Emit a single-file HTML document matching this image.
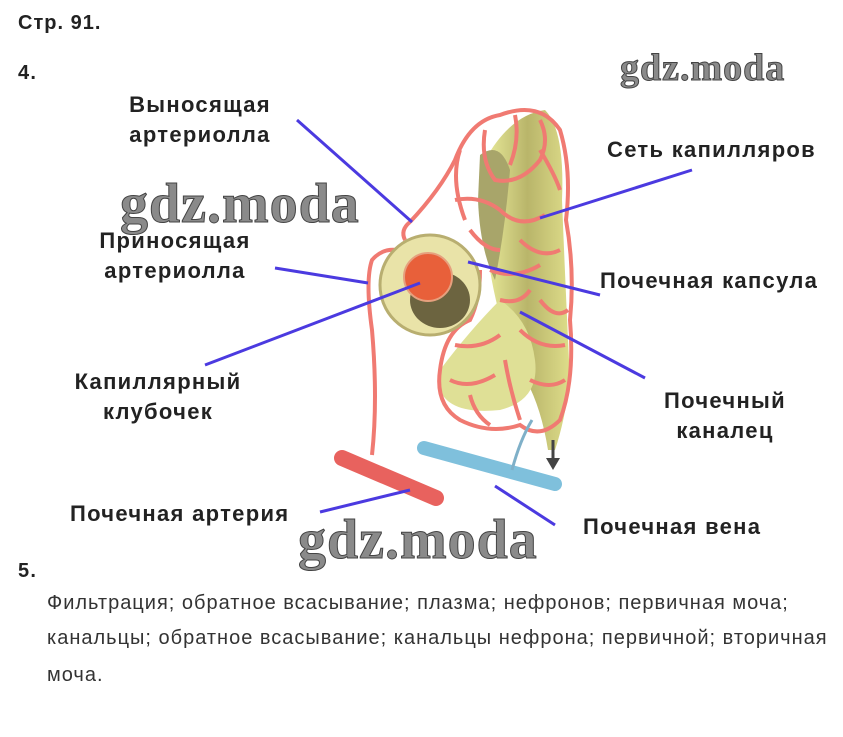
<!DOCTYPE html>
<html><head><meta charset="utf-8"><style>
body{margin:0;width:843px;height:737px;background:#fff;overflow:hidden;position:relative;font-family:"Liberation Sans",sans-serif}
.t{position:absolute;font-weight:bold;font-size:22px;letter-spacing:1.3px;color:#222;line-height:30px;white-space:nowrap}
.c{text-align:center}
.wm{position:absolute;font-family:"Liberation Serif",serif;font-weight:bold;color:#8a8a8a;-webkit-text-stroke:1px #444;letter-spacing:1px;white-space:nowrap}
.p{position:absolute;left:47px;font-size:20px;letter-spacing:1px;color:#333;white-space:nowrap}
</style></head><body>
<div class="t" style="left:18px;top:8px;font-size:20px;letter-spacing:1px">Стр. 91.</div>
<div class="t" style="left:18px;top:58px;font-size:20px">4.</div>
<div class="t" style="left:18px;top:556px;font-size:20px">5.</div>
<svg width="843" height="737" style="position:absolute;left:0;top:0">
<defs><linearGradient id="y" x1="0" x2="1"><stop offset="0" stop-color="#e8ea9a"/><stop offset=".5" stop-color="#b9b56a"/><stop offset="1" stop-color="#dedd8a"/></linearGradient></defs>
<path d="M485 160 Q510 115 545 110 Q565 130 562 200 Q566 300 570 380 Q565 420 555 450 L548 450 Q540 400 520 370 Q500 330 490 270 Z" fill="url(#y)"/>
<path d="M440 370 Q470 330 500 300 Q530 320 535 360 Q540 400 500 410 Q450 415 440 390 Z" fill="#dfe096"/>
<path d="M480 155 Q500 140 510 170 Q505 230 495 280 Q480 250 478 200 Z" fill="#a8a56a"/>
<g fill="none" stroke="#f07a72" stroke-width="4">
<path d="M410 222 Q440 190 455 160 Q470 120 500 115 Q540 100 560 130 Q572 170 566 220 Q575 270 570 320 Q575 380 560 420 Q540 440 520 425 Q490 435 460 420 Q435 405 440 370 Q445 330 470 320 Q480 300 480 270"/>
<path d="M460 150 Q450 180 465 220 M455 200 Q480 195 500 210 M485 130 Q480 160 495 180 Q520 185 540 160 Q550 140 540 120 M500 210 Q520 230 545 215 M520 240 Q540 260 560 250 M470 230 Q485 250 500 250 M490 270 Q515 280 540 265 M500 300 Q520 305 530 290 M540 300 Q555 320 568 310 M455 345 Q480 350 500 335 M520 330 Q540 350 565 345 M450 380 Q470 390 495 375 M505 360 Q510 390 520 420 M530 380 Q550 390 565 380 M470 395 Q475 415 490 425 M540 150 Q555 175 560 190 M515 115 Q520 140 510 165"/>
<path d="M410 222 Q400 230 405 240" />
<path d="M372 455 Q378 400 372 330 Q365 280 372 260 Q385 245 405 252"/>
</g>
<ellipse cx="430" cy="285" rx="50" ry="50" fill="#e9e3a8" stroke="#b8ae70" stroke-width="3"/>
<ellipse cx="440" cy="300" rx="30" ry="28" fill="#6c6440"/>
<circle cx="428" cy="277" r="24" fill="#e8603a" stroke="#e6a07e" stroke-width="2"/>
<path d="M342 458 L436 498" stroke="#e8625e" stroke-width="16" stroke-linecap="round"/>
<path d="M424 448 L555 484" stroke="#7fc0dc" stroke-width="14" stroke-linecap="round"/>
<path d="M512 470 Q520 440 532 420" stroke="#7fb0c8" stroke-width="3" fill="none"/>
<path d="M553 440 L553 462" stroke="#444" stroke-width="3"/><path d="M546 458 L560 458 L553 470Z" fill="#444"/>
<g stroke="#4b3ae0" stroke-width="3">
<line x1="297" y1="120" x2="412" y2="222"/><line x1="692" y1="170" x2="540" y2="218"/>
<line x1="275" y1="268" x2="368" y2="283"/><line x1="600" y1="295" x2="468" y2="262"/>
<line x1="205" y1="365" x2="420" y2="283"/><line x1="645" y1="378" x2="520" y2="312"/>
<line x1="320" y1="512" x2="410" y2="490"/><line x1="555" y1="525" x2="495" y2="486"/>
</g>
</svg>
<div class="wm" style="left:620px;top:46px;font-size:38px">gdz.moda</div>
<div class="wm" style="left:120px;top:172px;font-size:56px">gdz.moda</div>
<div class="wm" style="left:298px;top:508px;font-size:56px">gdz.moda</div>
<div class="t c" style="left:100px;top:90px;width:200px">Выносящая<br>артериолла</div>
<div class="t" style="left:607px;top:135px">Сеть капилляров</div>
<div class="t c" style="left:75px;top:226px;width:200px">Приносящая<br>артериолла</div>
<div class="t" style="left:600px;top:266px">Почечная капсула</div>
<div class="t c" style="left:58px;top:367px;width:200px">Капиллярный<br>клубочек</div>
<div class="t c" style="left:625px;top:386px;width:200px">Почечный<br>каналец</div>
<div class="t" style="left:70px;top:499px">Почечная артерия</div>
<div class="t" style="left:583px;top:512px">Почечная вена</div>
<div class="p" style="top:592px">Фильтрация; обратное всасывание; плазма; нефронов; первичная моча;</div>
<div class="p" style="top:627px">канальцы; обратное всасывание; канальцы нефрона; первичной; вторичная</div>
<div class="p" style="top:664px">моча.</div>
</body></html>
